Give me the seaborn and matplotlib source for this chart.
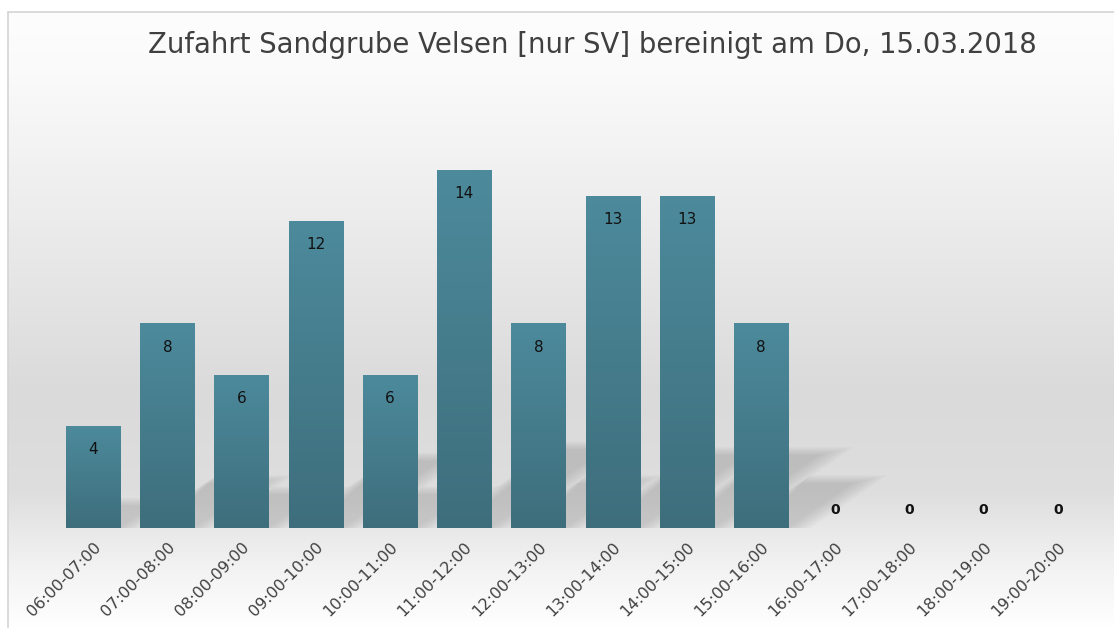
import matplotlib.pyplot as plt
import numpy as np
import pandas as pd
import seaborn as sns
from matplotlib.colors import LinearSegmentedColormap
from matplotlib.patches import Polygon

hours = [
    "06:00-07:00", "07:00-08:00", "08:00-09:00", "09:00-10:00",
    "10:00-11:00", "11:00-12:00", "12:00-13:00", "13:00-14:00",
    "14:00-15:00", "15:00-16:00", "16:00-17:00", "17:00-18:00",
    "18:00-19:00", "19:00-20:00",
]
counts = [4, 8, 6, 12, 6, 14, 8, 13, 13, 8, 0, 0, 0, 0]
title = "Zufahrt Sandgrube Velsen [nur SV] bereinigt am Do, 15.03.2018"

sns.set_theme(style="white")
plt.rcParams["font.family"] = ["DejaVu Sans"]

df = pd.DataFrame({"hour": hours, "count": counts})

W, H = 1114, 628
fig = plt.figure(figsize=(W / 100, H / 100), dpi=100)
fig.patch.set_facecolor("white")

# chart area background: white -> grey -> white vertical gradient
bg = fig.add_axes([8 / W, 0, 1 - 8 / W, (H - 12) / H], zorder=-2)
bg_stops = [(0.0, "#fdfdfd"), (0.10, "#fafafa"), (0.40, "#e8e8e8"),
            (0.62, "#dadada"), (0.78, "#dedede"), (0.90, "#f2f2f2"), (1.0, "#ffffff")]
bg_cmap = LinearSegmentedColormap.from_list("bg", bg_stops)
bg.imshow(np.linspace(0, 1, 256).reshape(-1, 1), aspect="auto", cmap=bg_cmap,
          extent=[0, 1, 0, 1], origin="upper")
bg.set_axis_off()

# thin frame of the chart area
fig.add_artist(plt.Line2D([8 / W, 1], [1 - 12 / H, 1 - 12 / H], color="#d4d4d4", lw=1.2))
fig.add_artist(plt.Line2D([8 / W, 8 / W], [0, 1 - 12 / H], color="#d4d4d4", lw=1.2))

ax = fig.add_axes([56 / W, 100 / H, (1095 - 56) / W, 428 / H])
ax.patch.set_alpha(0)

sns.barplot(data=df, x="hour", y="count", color="#457f90", width=0.73,
            saturation=1, linewidth=0, ax=ax)

# soft floor shadows cast to the upper right
for patch in list(ax.patches):
    h = patch.get_height()
    if h <= 0:
        continue
    x0, x1 = patch.get_x(), patch.get_x() + patch.get_width()
    dx, dy = 0.11 * h, 0.22 * h
    for k in range(7):
        s = 0.05 * k
        poly = Polygon([(x0 + s, 0), (x1 + s, 0), (x1 + dx + s * 1.5, dy + s),
                        (x0 + dx + s * 0.5, dy + s)], closed=True,
                       facecolor="#6a6a6a", edgecolor="none", alpha=0.04, zorder=0.5)
        ax.add_patch(poly)

# vertical gradient inside each bar
bar_cmap = LinearSegmentedColormap.from_list("bar", ["#3e6e7c", "#4c8a9c"])
grad = np.linspace(0, 1, 256).reshape(-1, 1)
for patch in ax.containers[0]:
    h = patch.get_height()
    if h <= 0:
        continue
    x0 = patch.get_x()
    img = ax.imshow(grad, aspect="auto", cmap=bar_cmap, origin="lower",
                    extent=[x0, x0 + patch.get_width(), 0, h], zorder=patch.get_zorder())
    img.set_clip_path(patch)

ax.set_xlim(-0.5, len(hours) - 0.5)
ax.set_ylim(0, 16.74)

for i, v in enumerate(counts):
    if v > 0:
        ax.annotate(str(v), (i, v), xytext=(0, -17), textcoords="offset points",
                    ha="center", va="center", fontsize=11, color="#111111")
    else:
        ax.annotate(str(v), (i, 0), xytext=(0, 13), textcoords="offset points",
                    ha="center", va="center", fontsize=10, fontweight="bold",
                    color="#111111")

ax.set_xlabel("")
ax.set_ylabel("")
ax.set_yticks([])
ax.tick_params(axis="x", length=0, pad=8)
plt.setp(ax.get_xticklabels(), rotation=45, ha="right", rotation_mode="anchor",
         fontsize=11.5, color="#404040")
sns.despine(ax=ax, left=True, bottom=True)

fig.text(592 / W, 1 - 45 / H, title, ha="center", va="center",
         fontsize=19.8, color="#404040")

fig.savefig("out.png", dpi=100)
